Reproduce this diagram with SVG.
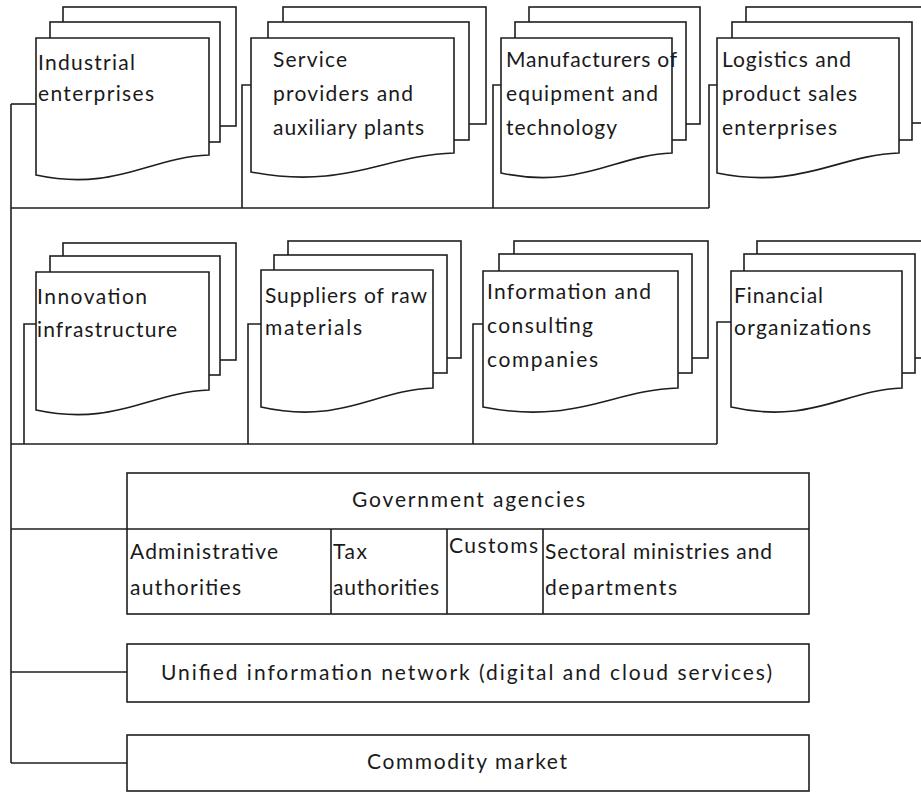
<svg xmlns="http://www.w3.org/2000/svg" width="921" height="792" viewBox="0 0 921 792">
<style>
.s{fill:#fff;stroke:#1e1e1e;stroke-width:1.6}
.c{fill:none;stroke:#1e1e1e;stroke-width:1.6}
text{font-family:"Lato","Liberation Sans",sans-serif;font-size:21px;fill:#1a1a1a}
</style>
<rect width="921" height="792" fill="#fff"/>
<g id="connectors" class="c">
<path d="M11,104V763"/>
<path d="M11,104H36"/>
<path d="M11,208H709"/>
<path d="M242,208V85H251"/>
<path d="M493,208V85H501"/>
<path d="M709,208V85H717"/>
<path d="M11,444H717"/>
<path d="M24,444V324H36"/>
<path d="M248,444V324H261"/>
<path d="M473,444V324H483"/>
<path d="M717,444V322H731"/>
<path d="M11,529H127"/>
<path d="M11,672H127"/>
<path d="M11,763H127"/>
</g>
<g id="industrial">
<rect class="s" x="63" y="7" width="173" height="119"/>
<rect class="s" x="50" y="22" width="170" height="120"/>
<path class="s" d="M36,38H209V155C150,157 115,192 36,175Z"/>
<text x="38" y="70" textLength="97" lengthAdjust="spacing">Industrial</text>
<text x="38" y="101" textLength="116" lengthAdjust="spacing">enterprises</text>
</g>
<g id="service">
<rect class="s" x="283" y="7" width="203" height="117"/>
<rect class="s" x="268" y="22" width="201" height="118"/>
<path class="s" d="M251,38H454V153C385,155 345,190 251,172Z"/>
<text x="273" y="67" textLength="74" lengthAdjust="spacing">Service</text>
<text x="273" y="101" textLength="140" lengthAdjust="spacing">providers and</text>
<text x="273" y="135" textLength="151" lengthAdjust="spacing">auxiliary plants</text>
</g>
<g id="manufacturers">
<rect class="s" x="529" y="7" width="171" height="117"/>
<rect class="s" x="515" y="22" width="171" height="118"/>
<path class="s" d="M501,38H672V153C615,155 580,190 501,173Z"/>
<text x="506" y="67" textLength="171" lengthAdjust="spacing">Manufacturers of</text>
<text x="506" y="101" textLength="152" lengthAdjust="spacing">equipment and</text>
<text x="506" y="135" textLength="111" lengthAdjust="spacing">technology</text>
</g>
<g id="logistics">
<rect class="s" x="746" y="7" width="190" height="116"/>
<rect class="s" x="732" y="22" width="180" height="118"/>
<path class="s" d="M717,38H899V153C838,155 800,190 717,173Z"/>
<text x="722" y="67" textLength="129" lengthAdjust="spacing">Logistics and</text>
<text x="722" y="101" textLength="135" lengthAdjust="spacing">product sales</text>
<text x="722" y="135" textLength="115" lengthAdjust="spacing">enterprises</text>
</g>
<g id="innovation">
<rect class="s" x="63" y="243" width="173" height="117"/>
<rect class="s" x="50" y="256" width="170" height="119"/>
<path class="s" d="M36,272H209V390C150,392 115,427 36,410Z"/>
<text x="37" y="304" textLength="110" lengthAdjust="spacing">Innovation</text>
<text x="37" y="337" textLength="140" lengthAdjust="spacing">infrastructure</text>
</g>
<g id="suppliers">
<rect class="s" x="288" y="241" width="173" height="117"/>
<rect class="s" x="274" y="255" width="173" height="118"/>
<path class="s" d="M261,270H433V388C375,390 340,425 261,407Z"/>
<text x="265" y="303" textLength="162" lengthAdjust="spacing">Suppliers of raw</text>
<text x="265" y="335" textLength="97" lengthAdjust="spacing">materials</text>
</g>
<g id="information">
<rect class="s" x="514" y="241" width="194" height="117"/>
<rect class="s" x="499" y="254" width="193" height="119"/>
<path class="s" d="M483,271H678V388C612,390 575,425 483,407Z"/>
<text x="487" y="299" textLength="164" lengthAdjust="spacing">Information and</text>
<text x="487" y="333" textLength="106" lengthAdjust="spacing">consulting</text>
<text x="487" y="367" textLength="111" lengthAdjust="spacing">companies</text>
</g>
<g id="financial">
<rect class="s" x="757" y="241" width="180" height="117"/>
<rect class="s" x="744" y="254" width="171" height="119"/>
<path class="s" d="M731,271H902V388C845,390 810,425 731,407Z"/>
<text x="734" y="303" textLength="89" lengthAdjust="spacing">Financial</text>
<text x="734" y="335" textLength="137" lengthAdjust="spacing">organizations</text>
</g>
<g id="government">
<rect class="s" x="127" y="473" width="682" height="141"/>
<path class="c" d="M127,529H809M331,529V614M447,529V614M543,529V614"/>
<text x="352" y="507" textLength="233" lengthAdjust="spacing">Government agencies</text>
<text x="130" y="559" textLength="148" lengthAdjust="spacing">Administrative</text>
<text x="130" y="595" textLength="111" lengthAdjust="spacing">authorities</text>
<text x="333" y="559" textLength="34" lengthAdjust="spacing">Tax</text>
<text x="333" y="595" textLength="106" lengthAdjust="spacing">authorities</text>
<text x="449" y="553" textLength="89" lengthAdjust="spacing">Customs</text>
<text x="545" y="559" textLength="227" lengthAdjust="spacing">Sectoral ministries and</text>
<text x="545" y="595" textLength="132" lengthAdjust="spacing">departments</text>
</g>
<g id="unified">
<rect class="s" x="127" y="644" width="682" height="58"/>
<text x="161" y="680" textLength="611" lengthAdjust="spacing">Unified information network (digital and cloud services)</text>
</g>
<g id="commodity">
<rect class="s" x="127" y="735" width="682" height="56"/>
<text x="367" y="769" textLength="200" lengthAdjust="spacing">Commodity market</text>
</g>
</svg>
